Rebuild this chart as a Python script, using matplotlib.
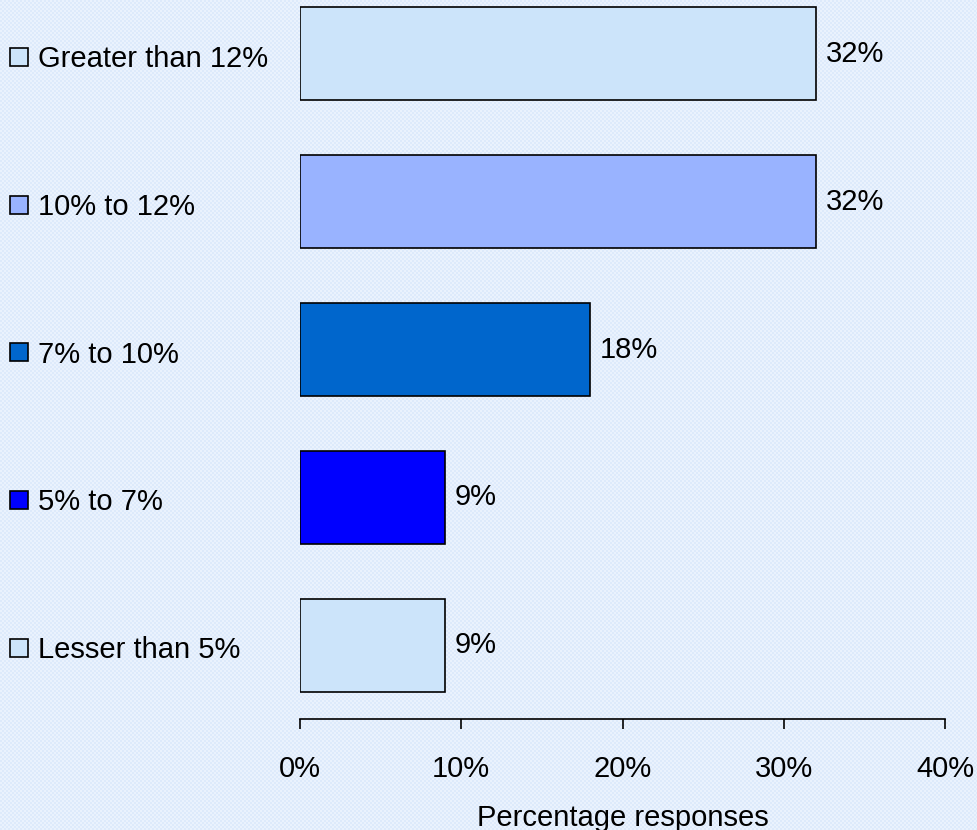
import numpy as np
import matplotlib
matplotlib.use('Agg')
import matplotlib.pyplot as plt
from matplotlib.patches import Rectangle
from matplotlib.transforms import blended_transform_factory

plt.rcParams['font.family'] = ['Liberation Sans', 'DejaVu Sans']

# Response bands, top to bottom
categories = ['Greater than 12%', '10% to 12%', '7% to 10%', '5% to 7%', 'Lesser than 5%']
shares = [32, 32, 18, 9, 9]
bar_colors = ['#CCE4FA', '#99B3FF', '#0066CC', '#0000FF', '#CCE4FA']
x_ticks = [0, 10, 20, 30, 40]
x_ticklabels = ['0%', '10%', '20%', '30%', '40%']

W, H = 978, 830
fig = plt.figure(figsize=(W / 100, H / 100), dpi=100)

# fine checkered backdrop
yy, xx = np.mgrid[0:H, 0:W]
checker = ((xx // 2 + yy // 2) % 2).astype(float)
c0 = np.array([0xDD, 0xEA, 0xFB]) / 255
c1 = np.array([0xEA, 0xF2, 0xFD]) / 255
bg = c0[None, None, :] * (1 - checker[..., None]) + c1[None, None, :] * checker[..., None]
fig.figimage(bg, xo=0, yo=0, zorder=-1)

ax = fig.add_axes([300 / W, 1 - 719 / H, 645 / W, 719 / H])
ax.patch.set_visible(False)

ypos = np.arange(len(categories))
ax.barh(ypos, shares, height=0.63, color=bar_colors, edgecolor='black', linewidth=1.2)

for y, v in zip(ypos, shares):
    ax.annotate(f'{v}%', xy=(v, y), xytext=(7, 0), textcoords='offset points',
                va='center', ha='left', fontsize=21)

ax.set_xlim(0, 40)
ax.set_ylim(4.5, -0.365)
ax.set_xticks(x_ticks)
ax.set_xticklabels(x_ticklabels, fontsize=21)
ax.tick_params(axis='x', direction='out', length=7, width=1.2, pad=19)
ax.set_yticks([])
for s in ['top', 'right', 'left']:
    ax.spines[s].set_visible(False)
ax.spines['bottom'].set_linewidth(1.2)
ax.set_xlabel('Percentage responses', fontsize=21, labelpad=15)

# category labels with colour keys on the left
tr = blended_transform_factory(fig.transFigure, ax.transData)
for y, name, col in zip(ypos, categories, bar_colors):
    ax.text(38 / W, y + 0.035, name, transform=tr, fontsize=21, va='center', ha='left',
            clip_on=False)
    fig.add_artist(Rectangle((10 / W, 1 - (57 + y * 147.75 + 9) / H), 18 / W, 18 / H,
                             transform=fig.transFigure, facecolor=col,
                             edgecolor='black', linewidth=1.2))

fig.savefig('out.png', dpi=100)
